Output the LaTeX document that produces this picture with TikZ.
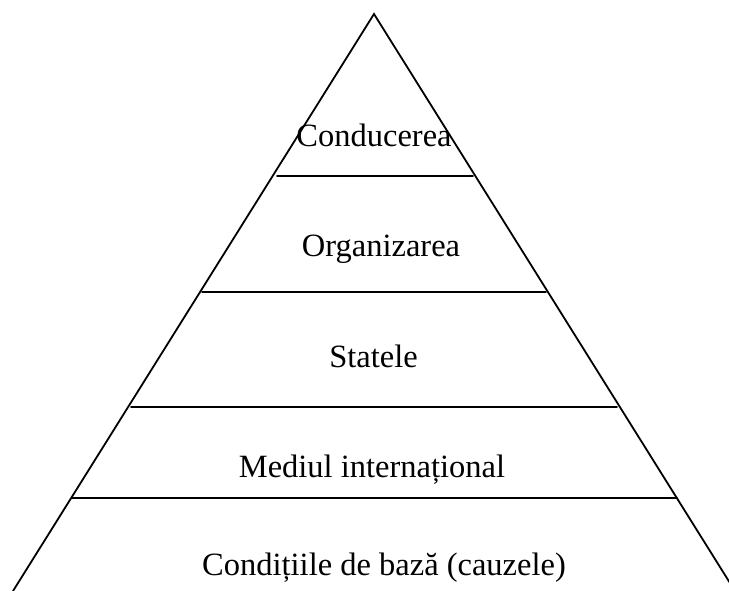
\documentclass[tikz,border=0pt]{standalone}
\usepackage{fontspec}
\setmainfont{Liberation Serif}
\tikzset{
  level/.style={anchor=base, inner sep=0pt, font=\fontsize{32.5}{38}\selectfont},
  edge/.style={line width=1.8pt, line cap=round}
}
\begin{document}
\begin{tikzpicture}[x=1pt, y=-1pt]
    \useasboundingbox (0,0) rectangle (729,591);
    \clip (0,0) rectangle (729,591);
    \coordinate (apex) at (374,14);
    \coordinate (left) at (13,591);
    \coordinate (right) at (735,591);
    \draw[edge] (left) -- (apex) -- (right);
    \draw[edge] (277,176) -- (473,176);
    \draw[edge] (202,292) -- (546,292);
    \draw[edge] (131,407) -- (617,407);
    \draw[edge] (72,498) -- (677,498);
    \node[level] (conducerea) at (374,147) {Conducerea};
    \node[level] (organizarea) at (381,257) {Organizarea};
    \node[level] (statele) at (373.5,367) {Statele};
    \node[level] (mediul) at (372,477) {Mediul internațional};
    \node[level] (conditiile) at (384,575) {Condițiile de bază (cauzele)};
  \end{tikzpicture}
\end{document}
